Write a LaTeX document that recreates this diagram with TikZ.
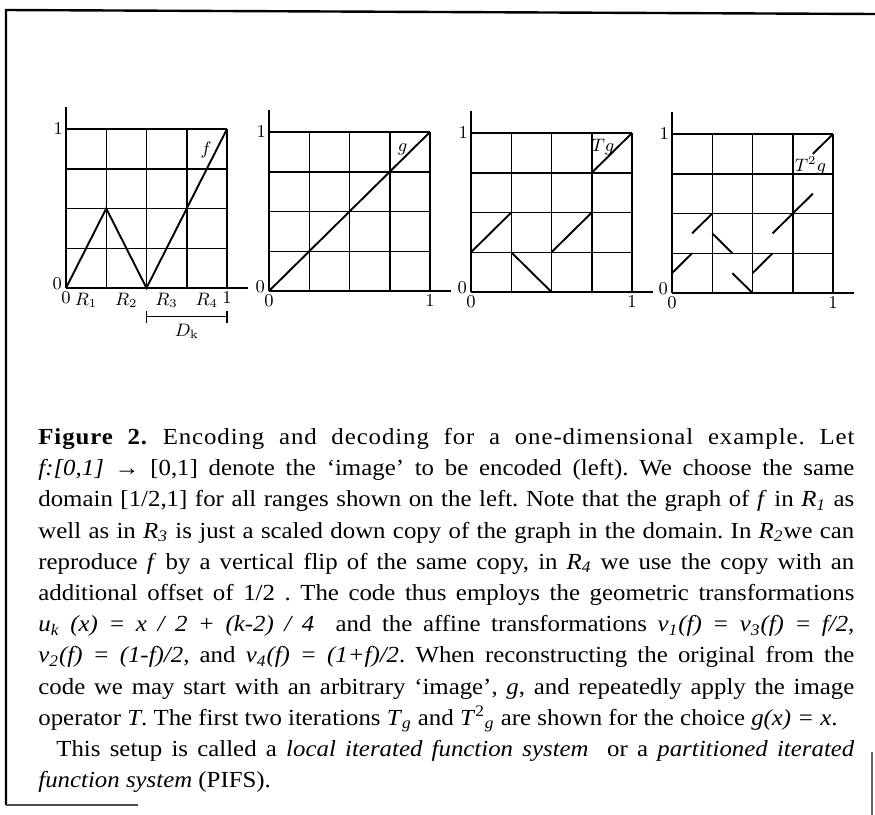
\documentclass[tikz,border=0pt]{standalone}
\usepackage[no-math]{fontspec}
\setmainfont{Liberation Serif}[FakeStretch=1.08]
\usetikzlibrary{positioning}
\newcommand{\itsub}[2]{\textit{#1}\textsubscript{\textit{#2}}}
\tikzset{
  gridline/.style={line width=0.75pt},
  graphline/.style={line width=0.95pt},
  labelfont/.style={font=\fontsize{9}{10}\selectfont,inner sep=1pt},
  caption/.style={text width=408pt,align=justify,inner sep=0pt,
    font=\fontsize{11.5}{15.6}\selectfont}
}
\begin{document}
\begin{tikzpicture}[x=0.5pt,y=-0.5pt]
    \useasboundingbox (0,0) rectangle (875,815);
    % page frame
    \draw[line width=1.2pt] (6,805) -- (6,10) -- (875,14);
    \draw[line width=0.9pt,black!70] (6,805) -- (138,805);
    \draw[line width=0.6pt,black!60] (872,752) -- (872,815);
    % the four grids with axes
    \foreach \ox/\oy/\nm in {66/288/pf,269/291/pg,471/292/pt,672/293/ptt} {
        \begin{scope}[shift={(\ox,\oy)},x=80.5pt,y=79.5pt]
            \foreach \i in {1,...,4} {
                \draw[gridline] (\i/4,0) -- (\i/4,1);
                \draw[gridline] (0,\i/4) -- (1,\i/4);
            }
            \draw[gridline] (0,0) -- (1.13,0);
            \draw[gridline] (0,0) -- (0,1.14);
            \node[labelfont,anchor=east] (\nm-y0) at (-0.01,0.03) {$0$};
            \node[labelfont,anchor=east] (\nm-y1) at (-0.005,1.0) {$1$};
            \node[labelfont,anchor=north] (\nm-x0) at (0.0,-0.01) {$0$};
            \node[labelfont,anchor=north] (\nm-x1) at (1.0,-0.01) {$1$};
        \end{scope}
    }
    % f
    \begin{scope}[shift={(66,288)},x=80.5pt,y=79.5pt]
        \draw[graphline] (0,0) -- (0.25,0.5) -- (0.5,0) -- (1,1);
        \node[labelfont] (flab) at (0.87,0.87) {$f$};
        \foreach \k in {1,...,4}
            \node[labelfont] (R\k) at ({(\k-0.5)/4},-0.08) {$R_{\k}$};
        \coordinate (dka) at (0.5,-0.18);
        \coordinate (dkb) at (1,-0.18);
        \draw[gridline] (dka) -- (dkb);
        \draw[gridline] ([yshift=-3pt]dka) -- ([yshift=3pt]dka);
        \draw[gridline] ([yshift=-3pt]dkb) -- ([yshift=3pt]dkb);
        \node[labelfont] (Dk) at (0.75,-0.27) {$D_{\rm k}$};
    \end{scope}
    % g
    \begin{scope}[shift={(269,291)},x=80.5pt,y=79.5pt]
        \draw[graphline] (0,0) -- (1,1);
        \node[labelfont] (glab) at (0.83,0.89) {$g$};
    \end{scope}
    % Tg
    \begin{scope}[shift={(471,292)},x=80.5pt,y=79.5pt]
        \draw[graphline] (0,0.25) -- (0.25,0.5);
        \draw[graphline] (0.25,0.25) -- (0.5,0);
        \draw[graphline] (0.5,0.25) -- (0.75,0.5);
        \draw[graphline] (0.75,0.75) -- (1,1);
        \node[labelfont] (tglab) at (0.82,0.91) {$Tg$};
    \end{scope}
    % T^2 g
    \begin{scope}[shift={(672,293)},x=80.5pt,y=79.5pt]
        \draw[graphline] (0,0.125) -- (0.125,0.25);
        \draw[graphline] (0.125,0.375) -- (0.25,0.5);
        \draw[graphline] (0.25,0.375) -- (0.375,0.25);
        \draw[graphline] (0.375,0.125) -- (0.5,0);
        \draw[graphline] (0.5,0.125) -- (0.625,0.25);
        \draw[graphline] (0.625,0.375) -- (0.875,0.625);
        \draw[graphline] (0.875,0.875) -- (1,1);
        \node[labelfont] (ttglab) at (0.86,0.8) {$T^2g$};
    \end{scope}
    % caption
    \node[caption,anchor=north west] (cap) at (38,428) {\tolerance=10000\hyphenpenalty=10000\frenchspacing
        {\addfontfeatures{LetterSpace=4}\textbf{Figure 2.} Encoding and decoding for a one-dimensional example. Let}\linebreak
        \textit{f:[0,1]} → [0,1] denote the `image' to be encoded (left). We choose the same\linebreak
        domain [1/2,1] for all ranges shown on the left. Note that the graph of \textit{f} in \itsub{R}{1} as\linebreak
        well as in \itsub{R}{3} is just a scaled down copy of the graph in the domain. In \itsub{R}{2}we can\linebreak
        reproduce \textit{f} by a vertical flip of the same copy, in \itsub{R}{4} we use the copy with an\linebreak
        additional offset of 1/2 . The code thus employs the geometric transformations\linebreak
        \itsub{u}{k} \textit{(x) = x / 2 + (k-2) / 4} \ and the affine transformations \itsub{v}{1}\textit{(f) = }\itsub{v}{3}\textit{(f) = f/2},\linebreak
        \itsub{v}{2}\textit{(f) = (1-f)/2}, and \itsub{v}{4}\textit{(f) = (1+f)/2}. When reconstructing the original from the\linebreak
        code we may start with an arbitrary `image', \textit{g}, and repeatedly apply the image\linebreak
        operator \textit{T}. The first two iterations \itsub{T}{g} and \textit{T}\textsuperscript{2}\textsubscript{\textit{g}} are shown for the choice \textit{g(x) = x}.\par
        \hspace*{9pt}This setup is called a \textit{local iterated function system} \ or a \textit{partitioned iterated}\linebreak
        \textit{function system} (PIFS).};
\end{tikzpicture}
\end{document}
